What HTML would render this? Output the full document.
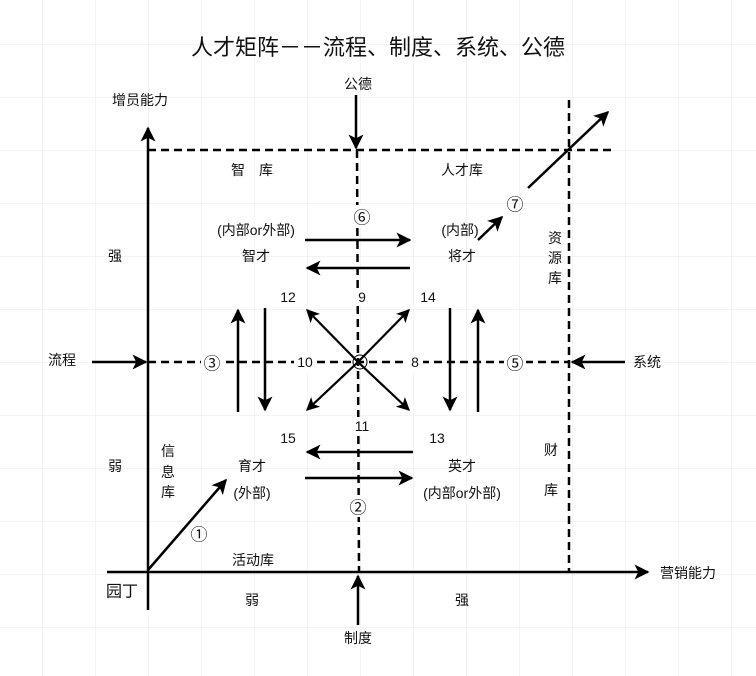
<!DOCTYPE html>
<html><head><meta charset="utf-8"><style>
html,body{margin:0;padding:0;background:#fff}
svg{display:block}
text{font-family:"Liberation Sans","Noto Sans CJK SC",sans-serif;fill:#111;font-size:14px;text-anchor:middle;dominant-baseline:central}
text.c{font-family:"Noto Sans CJK SC","DejaVu Sans",sans-serif;font-size:17px}
</style></head><body>
<svg width="756" height="676" viewBox="0 0 756 676" xmlns="http://www.w3.org/2000/svg">
<defs>
<pattern id="g" x="42" y="44" width="53" height="53" patternUnits="userSpaceOnUse">
<path d="M0 0H53M0 0V53" stroke="#e8e8e8" stroke-width="1" fill="none"/>
</pattern>
<marker id="a" viewBox="0 0 10 10" refX="9" refY="5" markerWidth="6" markerHeight="6" orient="auto"><path d="M0 0L10 5L0 10L2.5 5Z" fill="#000"/></marker>
</defs>
<rect width="756" height="676" fill="url(#g)"/>
<g stroke="#000" stroke-width="2.5" fill="none">
<g stroke-dasharray="8,5">
<path d="M148 150H612"/>
<path d="M357 150L359 572"/>
<path d="M569 100V572"/>
<path d="M148 362H569"/>
</g>
<path d="M148 610V128" marker-end="url(#a)"/>
<path d="M107 572H648" marker-end="url(#a)"/>
<path d="M356 95V148" marker-end="url(#a)"/>
<path d="M358 625V576" marker-end="url(#a)"/>
<path d="M92 362H146" marker-end="url(#a)"/>
<path d="M625 362H572" marker-end="url(#a)"/>
<path d="M528 188L608 112" marker-end="url(#a)"/>
<path d="M478 240L502 217" marker-end="url(#a)"/>
<path d="M148 570L226 480" marker-end="url(#a)"/>
<path d="M305 240H410" marker-end="url(#a)"/>
<path d="M410 268H307" marker-end="url(#a)"/>
<path d="M413 452H307" marker-end="url(#a)"/>
<path d="M305 478H412" marker-end="url(#a)"/>
<path d="M238 412V310" marker-end="url(#a)"/>
<path d="M265 308V410" marker-end="url(#a)"/>
<path d="M450 308V410" marker-end="url(#a)"/>
<path d="M478 412V310" marker-end="url(#a)"/>
<g stroke-width="2.2">
<path d="M358 362L307 310" marker-end="url(#a)"/>
<path d="M358 362L409 310" marker-end="url(#a)"/>
<path d="M358 362L307 410" marker-end="url(#a)"/>
<path d="M358 362L409 410" marker-end="url(#a)"/>
</g>
</g>
<circle cx="360" cy="362" r="7" fill="none" stroke="#000" stroke-width="1"/>
<!-- white backgrounds for labels on dashed lines -->
<g fill="#fff">
<rect x="352" y="205" width="20" height="22"/>
<rect x="354" y="288" width="16" height="18"/>
<rect x="201" y="352" width="22" height="20"/>
<rect x="294" y="352" width="22" height="20"/>
<rect x="407" y="352" width="16" height="20"/>
<rect x="504" y="352" width="22" height="20"/>
<rect x="352" y="417" width="20" height="18"/>
<rect x="348" y="495" width="20" height="22"/>
</g>
<text x="378" y="46" style="font-size:22px;font-family:'Noto Sans CJK SC',sans-serif">人才矩阵－－流程、制度、系统、公德</text>
<text x="140" y="100">增员能力</text>
<text x="358" y="84">公德</text>
<text x="252" y="170">智　库</text>
<text x="462" y="170">人才库</text>
<text class="c" x="362" y="216">⑥</text>
<text x="256" y="230">(内部or外部)</text>
<text x="256" y="256">智才</text>
<text x="460" y="230">(内部)</text>
<text x="462" y="256">将才</text>
<text class="c" x="515" y="203">⑦</text>
<text x="555" y="238">资</text>
<text x="555" y="258">源</text>
<text x="555" y="278">库</text>
<text x="115" y="256">强</text>
<text x="288" y="297">12</text>
<text x="362" y="297">9</text>
<text x="428" y="297">14</text>
<text x="62" y="360">流程</text>
<text class="c" x="212" y="362">③</text>
<text x="305" y="362">10</text>
<text x="415" y="362">8</text>
<text class="c" x="515" y="362">⑤</text>
<text x="647" y="362">系统</text>
<text x="288" y="438">15</text>
<text x="362" y="426">11</text>
<text x="437" y="438">13</text>
<text x="115" y="466">弱</text>
<text x="168" y="451">信</text>
<text x="168" y="472">息</text>
<text x="168" y="492">库</text>
<text x="252" y="466">育才</text>
<text x="252" y="493">(外部)</text>
<text x="462" y="466">英才</text>
<text x="462" y="493">(内部or外部)</text>
<text class="c" x="358" y="506">②</text>
<text x="551" y="450">财</text>
<text x="551" y="490">库</text>
<text class="c" x="199" y="533">①</text>
<text x="253" y="560">活动库</text>
<text x="688" y="573">营销能力</text>
<text x="122" y="592" style="font-size:16px">园丁</text>
<text x="252" y="600">弱</text>
<text x="462" y="600">强</text>
<text x="358" y="638">制度</text>
</svg>
</body></html>
